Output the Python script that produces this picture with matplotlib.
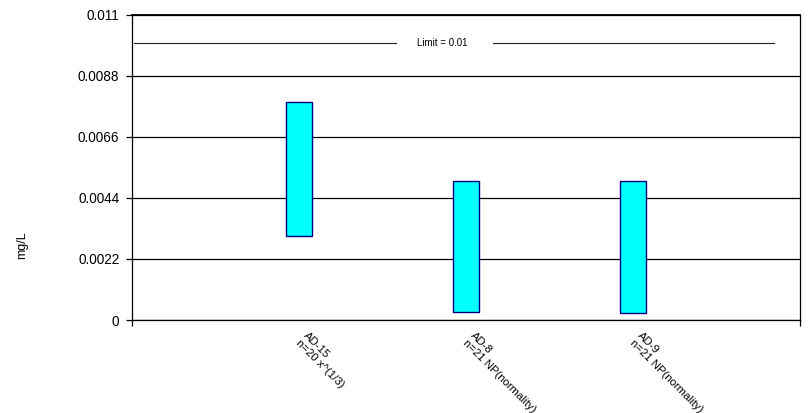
import matplotlib
matplotlib.use("Agg")
import matplotlib.pyplot as plt
from matplotlib.transforms import offset_copy

plt.rcParams['font.family'] = ['Liberation Sans', 'DejaVu Sans']

# Range bars: low and high concentration per well
wells = ["AD-15\nn=20 x^(1/3)", "AD-8\nn=21 NP(normality)", "AD-9\nn=21 NP(normality)"]
low = [0.00303, 0.00028, 0.00024]
high = [0.00785, 0.00500, 0.00500]
limit = 0.01
yticks = [0, 0.0022, 0.0044, 0.0066, 0.0088, 0.011]
ytick_labels = ["0", "0.0022", "0.0044", "0.0066", "0.0088", "0.011"]

fig = plt.figure(figsize=(8.10, 4.13), dpi=100)
ax = fig.add_axes([132/810, 93/413, 668/810, 305/413])

positions = [1, 2, 3]
heights = [h - l for h, l in zip(high, low)]
ax.bar(positions, heights, bottom=low, width=0.16, color="#00FFFF",
       edgecolor="#000080", linewidth=1.0, zorder=3)

ax.set_xlim(0, 4)
ax.set_ylim(0, 0.011)
ax.set_yticks(yticks)
ax.set_yticklabels(ytick_labels, fontsize=9.8)
ax.yaxis.grid(True, color="black", linewidth=0.9, zorder=0)
ax.set_axisbelow(True)
ax.tick_params(axis='y', direction='out', length=4, width=0.9, pad=5)

# x labels drawn as rotated text below the axis
ax.set_xticks([0, 4])
ax.set_xticklabels(["", ""])
ax.tick_params(axis='x', direction='out', length=4, width=0.9)
lab_tr = offset_copy(ax.get_xaxis_transform(), fig=fig, x=10, y=-10, units='dots')
for p, name in zip(positions, wells):
    ax.text(p, 0, name, transform=lab_tr, rotation=-45, rotation_mode='anchor',
            ha='left', va='top', fontsize=8.2, linespacing=1.1)

# Limit line, broken around its label
ax.plot([0.012, 1.58], [limit, limit], color="#222222", linewidth=0.8, zorder=2)
ax.plot([2.16, 3.845], [limit, limit], color="#222222", linewidth=0.8, zorder=2)
ax.text(1.86, limit, "Limit = 0.01", ha='center', va='center', fontsize=7, zorder=4)

for s in ax.spines.values():
    s.set_color("black")
    s.set_linewidth(0.9)
ax.spines['top'].set_linewidth(1.3)

fig.text(22/810, 1 - 245/413, "mg/L", rotation=90, ha='center', va='center', fontsize=9)

fig.savefig("out.png", dpi=100)
